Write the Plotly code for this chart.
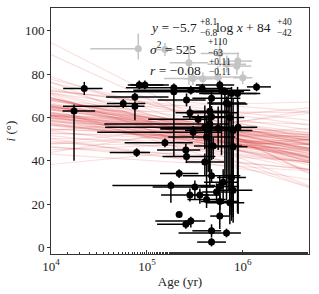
import plotly.graph_objects as go

# ---------------- data ----------------
# black points: log10(age/yr), inclination (deg), asymmetric errors
log_age = [4.240, 4.347, 4.753, 4.875, 4.875, 4.920, 4.979, 4.893,
           5.188, 5.250, 5.281, 5.281, 5.336, 5.336, 5.406, 5.413, 5.406,
           5.458, 5.413, 5.448, 5.482, 5.448, 5.458, 5.500, 5.534, 5.552,
           5.576, 5.604, 5.604, 5.622, 5.622, 5.639, 5.656, 5.656, 5.674,
           5.674, 5.674, 5.674, 5.674, 5.691, 5.726, 5.743, 5.760, 5.760,
           5.760, 5.760, 5.778, 5.795, 5.813, 5.830, 5.830, 5.847, 5.865,
           5.865, 5.882, 5.882, 5.899, 5.899, 5.899, 5.945, 5.951, 6.143]
incl = [63.0, 73.4, 66.4, 69.4, 65.2, 75.0, 75.0, 43.8,
        48.3, 28.6, 73.7, 71.9, 34.1, 15.2, 45.0, 42.0, 10.7,
        72.6, 68.1, 62.2, 53.2, 24.2, 12.2, 27.9, 59.2, 24.2,
        73.4, 39.4, 55.5, 51.0, 22.2, 54.7, 57.0, 62.9, 68.9,
        60.3, 33.1, 7.7, 2.5, 46.8, 25.6, 55.0, 75.0, 28.2,
        21.2, 14.5, 72.6, 30.1, 71.9, 66.7, 6.7, 66.2, 60.0,
        20.7, 71.1, 32.3, 54.0, 46.5, 26.4, 71.1, 55.5, 74.1]
log_age_lo = [0.12, 0.22, 0.17, 0.30, 0.75, 0.12, 0.15, 0.28,
              0.42, 0.61, 0.50, 0.65, 0.20, 0.00, 0.30, 0.25, 0.30,
              0.60, 0.30, 0.15, 1.00, 0.30, 0.37, 0.44, 0.52, 0.10,
              0.30, 0.20, 1.04, 0.40, 0.20, 0.50, 1.10, 0.20, 0.20,
              0.30, 0.30, 0.20, 0.15, 0.20, 0.15, 0.60, 0.25, 0.20,
              0.20, 0.10, 0.20, 0.20, 0.30, 0.20, 0.50, 0.20, 0.40,
              0.25, 0.30, 0.15, 0.50, 0.30, 0.20, 0.40, 0.30, 0.10]
log_age_hi = [0.22, 0.19, 0.23, 0.35, 0.10, 0.25, 0.25, 0.14,
              0.29, 0.46, 0.30, 0.40, 0.20, 0.00, 0.15, 0.30, 0.05,
              0.30, 0.20, 0.50, 0.30, 0.20, 0.15, 0.20, 0.10, 0.20,
              0.30, 0.20, 0.20, 0.30, 0.20, 0.30, 0.20, 0.20, 0.30,
              0.20, 0.30, 0.10, 0.15, 0.30, 0.15, 0.20, 0.15, 0.20,
              0.20, 0.10, 0.30, 0.15, 0.20, 0.20, 0.15, 0.20, 0.15,
              0.15, 0.30, 0.15, 0.20, 0.15, 0.20, 0.20, 0.20, 0.15]
incl_lo = [23, 3, 2, 2, 6.5, 2, 2, 2,
           2, 8, 2, 30, 2, 0, 2, 3, 2,
           2, 3, 3, 3, 3, 3, 6, 2, 4,
           2, 6, 10, 30, 4, 20, 25, 35, 3,
           20, 3, 3, 2, 6, 4, 10, 2, 8,
           4, 6, 30, 10, 40, 45, 2, 40, 45,
           10, 50, 20, 40, 30, 15, 55, 40, 2]
incl_hi = [3, 3, 2, 2, 2, 2, 2, 2,
           2, 2, 2, 2, 2, 0, 3, 2, 2,
           2, 3, 3, 3, 3, 2, 3, 2, 3,
           2, 4, 10, 10, 4, 8, 10, 5, 3,
           5, 3, 3, 2, 4, 4, 10, 2, 5,
           4, 10, 2, 6, 2, 3, 2, 5, 5,
           10, 3, 20, 15, 10, 15, 3, 12, 2]

# grey (excluded) points
g_log_age = [4.910, 5.188, 5.438, 5.479, 5.583, 5.740, 5.760, 5.833, 5.948, 6.000, 5.938]
g_incl = [91.7, 91.3, 85.2, 78.0, 77.9, 78.7, 89.5, 84.6, 86.0, 78.3, 83.7]
g_log_age_lo = [0.50, 0.10, 0.20, 0.30, 0.20, 0.30, 0.20, 0.20, 0.15, 0.10, 0.15]
g_log_age_hi = [0.00, 0.10, 0.20, 0.20, 0.20, 0.30, 0.20, 0.20, 0.15, 0.10, 0.15]
g_incl_lo = [5, 3, 10, 3, 3, 3, 6, 4, 4, 3, 4]
g_incl_hi = [7, 3, 8, 3, 3, 5, 6, 4, 4, 3, 4]

# posterior samples of  i = slope * log10(age) + intercept
slope_samples = [-5.7, -3.2, -8.1, -1.5, -12.4, -6.3, 1.8, -14.7, -4.6, -7.5,
                 3.9, -9.2, -5.1, -17.8, -2.4, -6.9, 2.7, -11.3, -3.8, -8.7,
                 -0.4, -20.2, -5.4, -7.9, 5.1, -9.8, -2.9, -6.1, -13.5, -4.2,
                 -1.1, -10.9, -5.9, -7.2, 4.3, -12.1, -3.5, -8.4, -0.9, -6.6,
                 -22.5, -4.9, 7.2, -9.5, -2.1, -7.0, -15.8, -5.3, 1.2, -3.9,
                 -6.0, -4.5, -7.8, -3.0, -9.1, -5.5, -2.2, -8.3, -6.8, -4.0,
                 -10.2, -5.0, -7.1, -3.6, -6.2, -8.9, -4.8, -5.9, -1.2, -7.4,
                 -6.5, -3.3, -9.7, -5.2, -4.3, -8.0, -6.0, -2.7, -7.6, -5.6,
                 -4.6, -10.8, -6.9, -3.9, -5.8, -8.6, -0.5, -6.3, -4.9, -7.3]
intercept_samples = [84.1, 73.3, 93.3, 67.0, 118.9, 96.4, 37.8, 137.6, 70.0, 96.0,
                     38.3, 97.3, 92.8, 147.6, 55.9, 95.7, 36.9, 122.9, 61.6, 101.6,
                     64.9, 169.8, 75.4, 94.2, 27.7, 110.6, 54.7, 97.3, 118.0, 77.8,
                     54.8, 112.7, 92.2, 87.3, 21.1, 122.3, 86.0, 97.9, 51.7, 94.0,
                     184.5, 68.7, 15.1, 114.0, 61.3, 78.2, 133.6, 85.9, 59.1, 72.2,
                     87.7, 74.5, 96.6, 73.2, 101.8, 79.0, 66.8, 101.4, 88.1, 74.7,
                     109.8, 85.2, 88.8, 71.5, 89.8, 97.7, 80.1, 83.2, 59.3, 97.4,
                     83.5, 72.9, 105.1, 84.3, 73.4, 96.7, 89.7, 65.6, 95.5, 82.5,
                     83.0, 114.1, 86.7, 75.2, 81.6, 103.0, 54.5, 87.4, 81.7, 90.9]

x_log_range = [4.0, 6.69]
y_range = [-3, 110.5]
y_ticks = [0, 20, 40, 60, 80, 100]
x_ticks = [1e4, 1e5, 1e6]
x_ticklabels = ["10<sup>4</sup>", "10<sup>5</sup>", "10<sup>6</sup>"]

# ---------------- figure ----------------
fig = go.Figure()

line_ages = [10 ** x_log_range[0], 10 ** x_log_range[1]]
for s, b in zip(slope_samples, intercept_samples):
    fig.add_trace(go.Scatter(
        x=line_ages, y=[s * x_log_range[0] + b, s * x_log_range[1] + b],
        mode="lines", line=dict(color="rgba(214,39,40,0.15)", width=1.2),
        hoverinfo="skip", showlegend=False))


def to_lin(la, lo, hi):
    x = [10 ** v for v in la]
    plus = [10 ** (v + h) - 10 ** v for v, h in zip(la, hi)]
    minus = [10 ** v - 10 ** (v - l) for v, l in zip(la, lo)]
    return x, plus, minus


gx, gp, gm = to_lin(g_log_age, g_log_age_lo, g_log_age_hi)
fig.add_trace(go.Scatter(
    x=gx, y=g_incl, mode="markers",
    marker=dict(color="#c4c4c4", size=7),
    error_x=dict(type="data", array=gp, arrayminus=gm, color="#c4c4c4", thickness=1.5, width=0),
    error_y=dict(type="data", array=g_incl_hi, arrayminus=g_incl_lo, color="#c4c4c4", thickness=1.5, width=0),
    showlegend=False))

bx, bp, bm = to_lin(log_age, log_age_lo, log_age_hi)
fig.add_trace(go.Scatter(
    x=bx, y=incl, mode="markers",
    marker=dict(color="black", size=7),
    error_x=dict(type="data", array=bp, arrayminus=bm, color="black", thickness=1.5, width=0),
    error_y=dict(type="data", array=incl_hi, arrayminus=incl_lo, color="black", thickness=1.5, width=0),
    showlegend=False))

# ---------------- annotations (fit summary) ----------------
F = "Liberation Serif, DejaVu Serif, serif"
main_sz, scr_sz = 13.5, 9.5


def ann(text, x, y, size):
    fig.add_annotation(text=text, x=x, y=y, xref="paper", yref="paper",
                       xanchor="left", yanchor="middle", showarrow=False,
                       font=dict(family=F, size=size, color="#222"))


ann("<i>y</i> = −5.7", 0.376, 0.921, main_sz)
ann("+8.1", 0.568, 0.943, scr_sz)
ann("−6.8", 0.568, 0.900, scr_sz)
ann("log <i>x</i> + 84", 0.632, 0.921, main_sz)
ann("+40", 0.868, 0.943, scr_sz)
ann("−42", 0.868, 0.900, scr_sz)

ann("<i>σ</i><sup>2</sup> = 525", 0.376, 0.835, main_sz)
ann("+110", 0.601, 0.860, scr_sz)
ann("−63", 0.601, 0.817, scr_sz)

ann("<i>r</i> = −0.08", 0.376, 0.744, main_sz)
ann("+0.11", 0.605, 0.782, scr_sz)
ann("−0.11", 0.605, 0.738, scr_sz)

axis_common = dict(showline=True, linecolor="#333", linewidth=1, mirror=True,
                   showgrid=False, zeroline=False,
                   tickfont=dict(family=F, size=13, color="#222"))

fig.update_xaxes(type="log", range=x_log_range, tickvals=x_ticks, ticktext=x_ticklabels,
                 ticks="inside", ticklen=4, tickcolor="#333",
                 minor=dict(ticks="inside", ticklen=2, tickcolor="#333", showgrid=False),
                 title=dict(text="Age (yr)", font=dict(family=F, size=13, color="#222"), standoff=4),
                 **axis_common)
fig.update_yaxes(range=y_range, tickvals=y_ticks, ticks="outside", ticklen=3, tickcolor="#333",
                 title=dict(text="<i>i</i> (°)", font=dict(family=F, size=13, color="#222"), standoff=6),
                 **axis_common)

fig.update_layout(width=319, height=294,
                  margin=dict(l=51, r=10, t=7, b=33),
                  paper_bgcolor="white", plot_bgcolor="white")

fig.write_html("out.html", config={"displayModeBar": False},
               post_script="document.body.style.margin='0';")
